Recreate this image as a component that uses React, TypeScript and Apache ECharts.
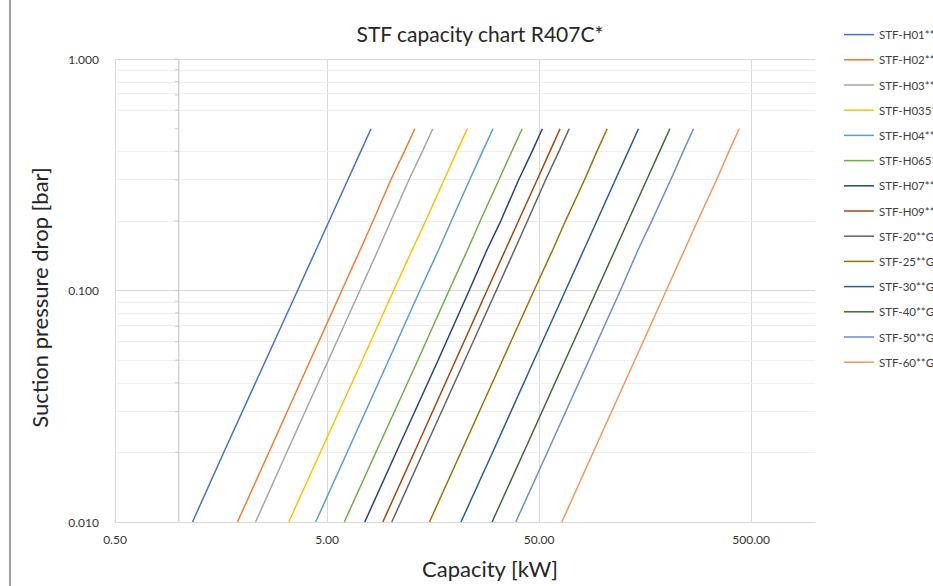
import React, { useEffect, useRef } from 'react';
import * as echarts from 'echarts';

const TITLE = 'STF capacity chart R407C*';
const X_NAME = 'Capacity [kW]';
const Y_NAME = 'Suction pressure drop [bar]';

// pressure drop [bar] at which each capacity is read
const PRESSURE_DROPS = [0.01, 0.02, 0.05, 0.1, 0.15, 0.2, 0.3, 0.4, 0.5];

const SERIES_NAMES = [
  'STF-H01**', 'STF-H02**', 'STF-H03**', 'STF-H035*', 'STF-H04**', 'STF-H065*', 'STF-H07**',
  'STF-H09**', 'STF-20**G', 'STF-25**G', 'STF-30**G', 'STF-40**G', 'STF-50**G', 'STF-60**G',
];
const SERIES_COLORS = [
  '#4472C4', '#ED7D31', '#A5A5A5', '#FFC000', '#5B9BD5', '#70AD47', '#264478',
  '#9E480E', '#636363', '#997300', '#255E91', '#43682B', '#698ED0', '#F1975A',
];

// capacity [kW] for each pressure drop
const H01 = [1.16, 1.63, 2.57, 3.63, 4.44, 5.12, 6.26, 7.22, 8.06];
const H02 = [1.89, 2.66, 4.17, 5.87, 7.17, 8.25, 9.98, 11.6, 12.96];
const H03 = [2.3, 3.23, 5.07, 7.14, 8.71, 10.0, 12.15, 14.1, 15.76];
const H035 = [3.3, 4.65, 7.33, 10.3, 12.6, 14.6, 17.8, 20.5, 22.95];
const H04 = [4.42, 6.22, 9.76, 13.7, 16.8, 19.3, 23.5, 27.1, 30.3];
const H065 = [6.03, 8.5, 13.4, 18.8, 23.0, 26.4, 32.3, 37.2, 41.6];
const H07 = [7.53, 10.6, 16.7, 23.4, 28.4, 33.0, 40.0, 46.4, 51.8];
const H09 = [9.16, 12.9, 20.2, 28.4, 34.7, 40.0, 48.9, 56.3, 62.8];
const G20 = [10.1, 14.2, 22.3, 31.4, 38.3, 44.1, 53.6, 62.1, 69.3];
const G25 = [15.2, 21.4, 33.6, 47.3, 58.0, 66.6, 81.8, 93.8, 104.7];
const G30 = [21.4, 30.2, 47.3, 66.6, 81.3, 93.7, 114.3, 131.8, 147.1];
const G40 = [30.0, 42.3, 66.4, 93.5, 114.2, 131.5, 160.7, 185.2, 206.8];
const G50 = [38.8, 54.7, 85.9, 120.8, 146.5, 170.0, 208.5, 239.4, 267.2];
const G60 = [64.0, 90.0, 141.3, 198.8, 242.7, 279.6, 343.0, 393.3, 439.0];
const CAPACITIES = [H01, H02, H03, H035, H04, H065, H07, H09, G20, G25, G30, G40, G50, G60];

// axis ranges
const X_MIN = 0.5;
const X_MAX = 1000;
const Y_MIN = 0.01;
const Y_MAX = 1;
const Y_CROSS_X = 1; // vertical axis crosses at capacity 1
const Y_MINOR = [0.02, 0.03, 0.04, 0.05, 0.06, 0.07, 0.08, 0.09, 0.2, 0.3, 0.4, 0.6, 0.7, 0.8, 0.9];
const Y_TICK_MARKS = [0.02, 0.03, 0.04, 0.05, 0.06, 0.07, 0.08, 0.09, 0.1, 0.2, 0.3, 0.4, 0.5, 0.6, 0.7, 0.8, 0.9, 1];

const ux = (x: number) => Math.log10(x / X_MIN);
const uy = (y: number) => Math.log10(y);

const FONT = 'Lato';

export default function App() {
  const ref = useRef<HTMLDivElement>(null);
  useEffect(() => {
    document.body.style.margin = '0';
    const chart = echarts.init(ref.current!, null, { renderer: 'svg' });
    const dataSeries = CAPACITIES.map((caps, i) => ({
      name: SERIES_NAMES[i],
      type: 'line',
      data: caps.map((c, j) => [ux(c), uy(PRESSURE_DROPS[j])]),
      symbol: 'none',
      smooth: false,
      z: 4,
      lineStyle: { color: SERIES_COLORS[i], width: 1.5 },
      itemStyle: { color: SERIES_COLORS[i] },
      emphasis: { disabled: true },
    }));
    const option = {
      animation: false,
      textStyle: { fontFamily: FONT },
      graphic: [
        {
          type: 'text',
          x: 480,
          y: 33,
          style: {
            text: TITLE,
            fontSize: 21,
            fontFamily: FONT,
            fill: '#262626',
            textAlign: 'center',
            textVerticalAlign: 'middle',
          },
        },
        {
          type: 'line',
          shape: { x1: 10, y1: 0, x2: 10, y2: 586 },
          style: { stroke: '#404040', lineWidth: 1 },
        },
      ],
      grid: { left: 115, right: 118, top: 59, bottom: 64 },
      legend: {
        orient: 'vertical',
        left: 839,
        top: 23,
        padding: 5,
        icon: 'rect',
        itemWidth: 30,
        itemHeight: 1.5,
        itemGap: 12,
        data: SERIES_NAMES,
        textStyle: { fontSize: 11.5, lineHeight: 13.2, color: '#404040', fontFamily: FONT },
      },
      xAxis: {
        type: 'value',
        min: 0,
        max: ux(X_MAX),
        interval: 1,
        name: X_NAME,
        nameLocation: 'middle',
        nameGap: 35,
        nameTextStyle: { fontSize: 22, color: '#262626', fontFamily: FONT, padding: [0, 0, 0, 50] },
        axisLine: { show: true, onZero: false, lineStyle: { color: '#d9d9d9', width: 1 } },
        axisTick: { show: false },
        axisLabel: {
          fontSize: 12,
          color: '#333333',
          margin: 11,
          formatter: (v: number) => (v > 3.1 ? '' : (X_MIN * Math.pow(10, v)).toFixed(2)),
        },
        splitLine: { show: true, showMaxLine: false, lineStyle: { color: '#d9d9d9', width: 1 } },
      },
      yAxis: {
        type: 'value',
        min: uy(Y_MIN),
        max: uy(Y_MAX),
        interval: 1,
        name: Y_NAME,
        nameLocation: 'middle',
        nameRotate: 90,
        nameGap: 65,
        nameTextStyle: { fontSize: 22, color: '#262626', fontFamily: FONT, padding: [0, 14, 0, 0] },
        axisLine: { show: false },
        axisTick: { show: false },
        axisLabel: {
          fontSize: 12,
          color: '#333333',
          margin: 16,
          formatter: (v: number) => Math.pow(10, v).toFixed(3),
        },
        splitLine: { show: true, lineStyle: { color: '#d9d9d9', width: 1 } },
      },
      series: [
        {
          name: 'axis-at-1',
          type: 'line',
          data: [
            [ux(Y_CROSS_X), uy(Y_MIN)],
            [ux(Y_CROSS_X), uy(Y_MAX)],
          ],
          symbol: 'none',
          silent: true,
          z: 2,
          lineStyle: { color: '#bfbfbf', width: 1 },
          emphasis: { disabled: true },
          markLine: {
            silent: true,
            z: 1,
            symbol: ['none', 'none'],
            label: { show: false },
            lineStyle: { color: '#eeeeee', width: 1, type: 'solid' },
            emphasis: { disabled: true },
            data: Y_MINOR.map((v) => ({ yAxis: uy(v) })),
          },
        },
        {
          name: 'axis-ticks',
          type: 'scatter',
          data: Y_TICK_MARKS.map((v) => [ux(Y_CROSS_X), uy(v)]),
          symbol: 'rect',
          symbolSize: [4, 1],
          symbolOffset: [-2, 0],
          silent: true,
          z: 2,
          itemStyle: { color: '#bfbfbf' },
          emphasis: { disabled: true },
        },
        ...dataSeries,
      ],
    };
    chart.setOption(option as any);
    return () => chart.dispose();
  }, []);
  return <div ref={ref} style={{ width: 933, height: 586 }} />;
}
